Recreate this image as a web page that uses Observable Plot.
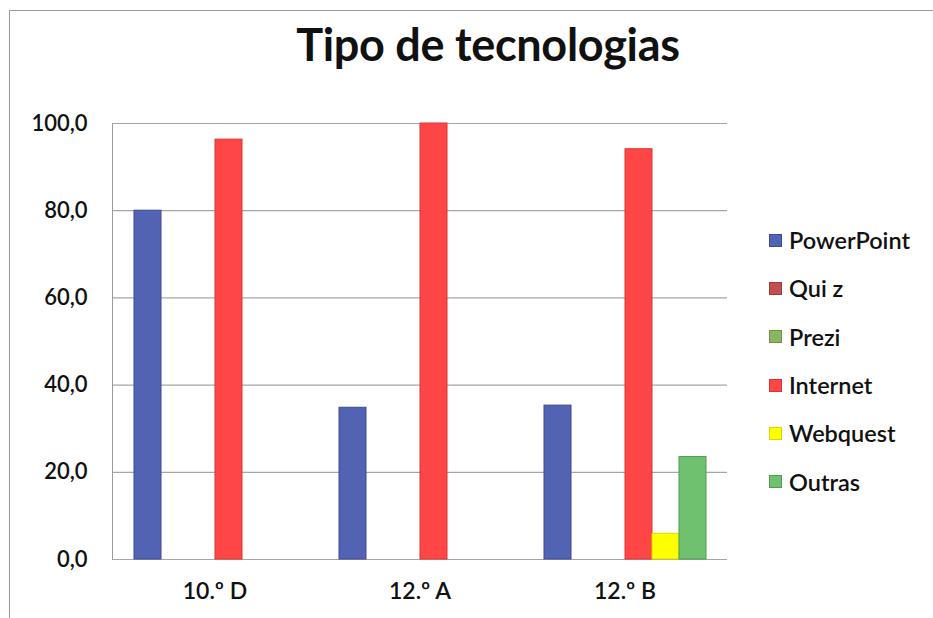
<!DOCTYPE html>
<html>
<head>
<meta charset="utf-8">
<script src="https://cdn.jsdelivr.net/npm/d3@7"></script>
<script src="https://cdn.jsdelivr.net/npm/@observablehq/plot@0.6"></script>
<style>
  html, body { margin: 0; padding: 0; background: #fff; }
  #wrap { position: relative; width: 933px; height: 618px; overflow: hidden; font-family: Lato, "Open Sans", sans-serif; }
  #border { position: absolute; left: 9px; top: 10px; width: 940px; height: 620px; border-left: 1px solid #9a9a9a; border-top: 1px solid #9a9a9a; }
  #title { position: absolute; left: 0; width: 976px; top: 17px; text-align: center; font-size: 45px; font-weight: 700; color: #111; letter-spacing: -0.3px; }
  #legend { position: absolute; left: 769px; top: 216px; }
  .item { display: flex; align-items: center; height: 48.3px; font-size: 23.5px; color: #111; font-weight: 600; }
  .sw { width: 13px; height: 13px; margin-right: 7px; box-sizing: border-box; }
  #chart { position: absolute; left: 0; top: 0; }
</style>
</head>
<body>
<div id="wrap">
  <div id="chart"></div>
  <div id="border"></div>
  <div id="title">Tipo de tecnologias</div>
  <div id="legend"></div>
</div>
<script>
const groups = ["10.º D", "12.º A", "12.º B"];
const series = ["PowerPoint", "Qui z", "Prezi", "Internet", "Webquest", "Outras"];
const powerpoint = [80.0, 34.8, 35.3];
const quiz = [0, 0, 0];
const prezi = [0, 0, 0];
const internet = [96.3, 100.0, 94.1];
const webquest = [0, 0, 5.9];
const outras = [0, 0, 23.5];
const yTicks = [0, 20, 40, 60, 80, 100];
const colors = ["#5363b3", "#c0504d", "#8cb65e", "#ff4646", "#ffff00", "#6fc06f"];
const strokes = ["#3e4b92", "#9a3b38", "#6c9445", "#d93434", "#d8d800", "#4f9e4f"];

const valuesBySeries = [powerpoint, quiz, prezi, internet, webquest, outras];
const data = [];
groups.forEach((g, gi) => {
  series.forEach((s, si) => {
    data.push({group: g, series: s, value: valuesBySeries[si][gi]});
  });
});
const strokeOf = Object.fromEntries(series.map((s, i) => [s, strokes[i]]));

const fmt = d => d.toFixed(1).replace(".", ",");

const plot = Plot.plot({
  width: 933,
  height: 618,
  marginLeft: 112,
  marginRight: 206,
  marginTop: 123,
  marginBottom: 59,
  style: {fontFamily: "Lato, 'Open Sans', sans-serif", fontSize: "22px", color: "#111", background: "transparent"},
  fx: {domain: groups, padding: 0, label: null, axis: null},
  x: {domain: series, paddingInner: 0, paddingOuter: 0.77, axis: null},
  y: {domain: [0, 100], axis: null},
  color: {domain: series, range: colors},
  marks: [
    Plot.ruleY(yTicks.filter(d => d > 0), {stroke: "#a6a6a6", strokeWidth: 1.2}),
    Plot.ruleY([0], {stroke: "#a6a6a6", strokeWidth: 1.2}),
    Plot.barY(data.filter(d => d.value > 0), {
      fx: "group", x: "series", y: "value", fill: "series",
      stroke: d => strokeOf[d.series], strokeWidth: 1
    }),
    Plot.axisFx({domain: groups, anchor: "bottom", tickSize: 0, tickPadding: 23, fontSize: 23, fontWeight: 600, label: null, fill: "#111"}),
    Plot.axisY({ticks: yTicks, tickFormat: fmt, anchor: "left", tickSize: 0, tickPadding: 25, fontSize: 22, fontWeight: 600, label: null, fill: "#111"}),
    Plot.frame({anchor: "left", stroke: "#9a9a9a", facetAnchor: "left"})
  ]
});
document.getElementById("chart").appendChild(plot);

const legend = document.getElementById("legend");
series.forEach((s, i) => {
  const item = document.createElement("div");
  item.className = "item";
  const sw = document.createElement("div");
  sw.className = "sw";
  sw.style.background = colors[i];
  sw.style.border = "1px solid " + strokes[i];
  const label = document.createElement("span");
  label.textContent = s;
  item.appendChild(sw);
  item.appendChild(label);
  legend.appendChild(item);
});
</script>
</body>
</html>
